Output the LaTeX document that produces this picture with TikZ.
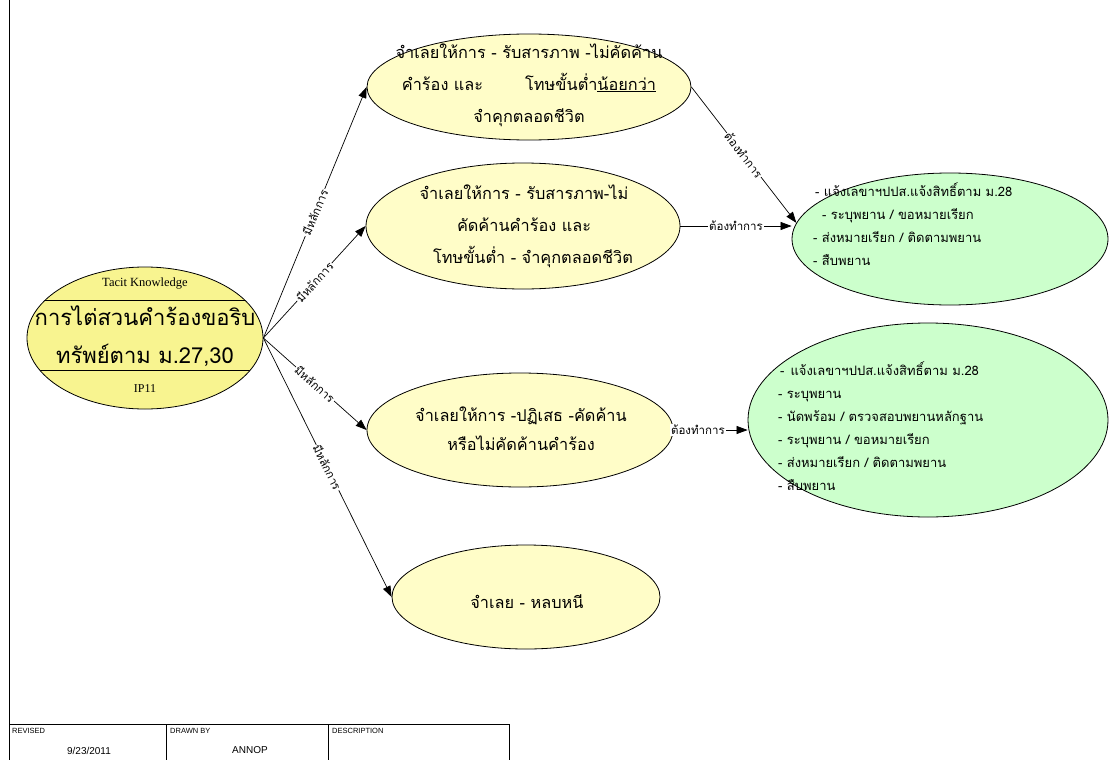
\documentclass[tikz,border=0pt]{standalone}
\usepackage{fontspec}
\setmainfont[Script=Thai]{Loma}
\newfontfamily\serifti{Liberation Serif}
\newfontfamily\arialti{Liberation Sans}
\usetikzlibrary{shapes.geometric,arrows.meta}
\definecolor{lefty}{HTML}{F8F490}
\definecolor{ly}{HTML}{FFFDC8}
\definecolor{lg}{HTML}{CCFFCC}
\begin{document}
\begin{tikzpicture}[x=1pt,y=-1pt,
  ell/.style={draw=black, line width=0.8pt, ellipse, inner sep=0pt},
  txt/.style={align=center, inner sep=0pt, font=\fontsize{16.3}{32}\selectfont},
  gtxt/.style={align=left, anchor=north west, inner sep=0pt, font=\fontsize{13}{23}\selectfont},
  conn/.style={line width=0.7pt, -{Triangle[length=11pt,width=8pt]}},
  lab/.style={sloped, fill=white, inner sep=1pt, font=\fontsize{11.5}{13}\selectfont},
  tbl/.style={line width=0.7pt}]
\useasboundingbox (0,0) rectangle (1113,760);
\fill[white] (0,0) rectangle (1113,760);

% frame
\draw[tbl] (9,0) -- (9,760);
\draw[tbl] (9,724) -- (509,724);
\draw[tbl] (166,724) -- (166,760);
\draw[tbl] (328,724) -- (328,760);
\draw[tbl] (509,724) -- (509,760);
\node[anchor=west, inner sep=0pt, font=\arialti\fontsize{7.5}{9}\selectfont] (rv) at (12,731) {REVISED};
\node[anchor=west, inner sep=0pt, font=\arialti\fontsize{7.5}{9}\selectfont] (db) at (170,731) {DRAWN BY};
\node[anchor=west, inner sep=0pt, font=\arialti\fontsize{7.5}{9}\selectfont] (ds) at (332,731) {DESCRIPTION};
\node[inner sep=0pt, font=\arialti\fontsize{10}{12}\selectfont] (dt) at (89,751) {9/23/2011};
\node[inner sep=0pt, font=\arialti\fontsize{10}{12}\selectfont] (an) at (250,750) {ANNOP};

% left ellipse
\node[ell, fill=lefty, minimum width=236pt, minimum height=142pt] (L) at (145,338) {};
\begin{scope}
\clip (145,338) ellipse (118 and 71);
\draw[line width=0.8pt] (0,300) -- (300,300);
\draw[line width=0.8pt] (0,370) -- (300,370);
\end{scope}
\node[inner sep=0pt, font=\serifti\fontsize{12.5}{14}\selectfont] (tk) at (145,284) {Tacit Knowledge};
\node[align=center, inner sep=0pt, font=\fontsize{22}{38}\selectfont] (lt) at (145,336) {การไต่สวนคำร้องขอริบ\\ทรัพย์ตาม ม.27,30};
\node[inner sep=0pt, font=\serifti\fontsize{12}{14}\selectfont] (ip) at (145,389) {IP11};

% middle ellipses
\node[ell, fill=ly, minimum width=324pt, minimum height=106pt] (E1) at (529,87) {};
\node[txt] (t1) at (529,85) {จำเลยให้การ - รับสารภาพ -ไม่คัดค้าน\\คำร้อง และ\hspace{42pt}โทษขั้นต่ำ\underline{น้อยกว่า}\\จำคุกตลอดชีวิต};

\node[ell, fill=ly, minimum width=314pt, minimum height=126pt] (E2) at (523,226) {};
\node[txt] (t2) at (524,226) {จำเลยให้การ - รับสารภาพ-ไม่\\คัดค้านคำร้อง และ\\\hspace{18pt}โทษขั้นต่ำ - จำคุกตลอดชีวิต};

\node[ell, fill=ly, minimum width=306pt, minimum height=114pt] (E3) at (520,430) {};
\node[txt, font=\fontsize{16.3}{29}\selectfont] (t3) at (521,429) {จำเลยให้การ -ปฏิเสธ -คัดค้าน\\หรือไม่คัดค้านคำร้อง};

\node[ell, fill=ly, minimum width=268pt, minimum height=104pt] (E4) at (526,597) {};
\node[txt] (t4) at (527,602) {จำเลย - หลบหนี};

% green ellipses
\node[ell, fill=lg, minimum width=316pt, minimum height=132pt] (G1) at (950,239) {};
\node[gtxt] (g1t) at (813,183) {\hspace{2pt}- แจ้งเลขาฯปปส.แจ้งสิทธิ์ตาม ม.28\\\hspace{9pt}- ระบุพยาน / ขอหมายเรียก\\- ส่งหมายเรียก / ติดตามพยาน\\- สืบพยาน};

\node[ell, fill=lg, minimum width=360pt, minimum height=194pt] (G2) at (928,420) {};
\node[gtxt] (g2t) at (778,362) {\hspace{2pt}-\hspace{6pt}แจ้งเลขาฯปปส.แจ้งสิทธิ์ตาม ม.28\\- ระบุพยาน\\- นัดพร้อม / ตรวจสอบพยานหลักฐาน\\- ระบุพยาน / ขอหมายเรียก\\- ส่งหมายเรียก / ติดตามพยาน\\- สืบพยาน};

% connectors
\draw[conn] (L.east) -- node[lab] {มีหลักการ} (E1.west);
\draw[conn] (L.east) -- node[lab] {มีหลักการ} (E2.west);
\draw[conn] (L.east) -- node[lab] {มีหลักการ} (E3.west);
\draw[conn] (L.east) -- node[lab] {มีหลักการ} (E4.west);
\draw[conn] (E1.east) -- node[lab] {ต้องทำการ} (G1.174);
\draw[conn] (E2.east) -- node[lab] {ต้องทำการ} (E2.east -| G1.west);
\draw[conn] (E3.east) -- node[lab, pos=0.33] {ต้องทำการ} (E3.east -| G2.west);
\end{tikzpicture}
\end{document}
